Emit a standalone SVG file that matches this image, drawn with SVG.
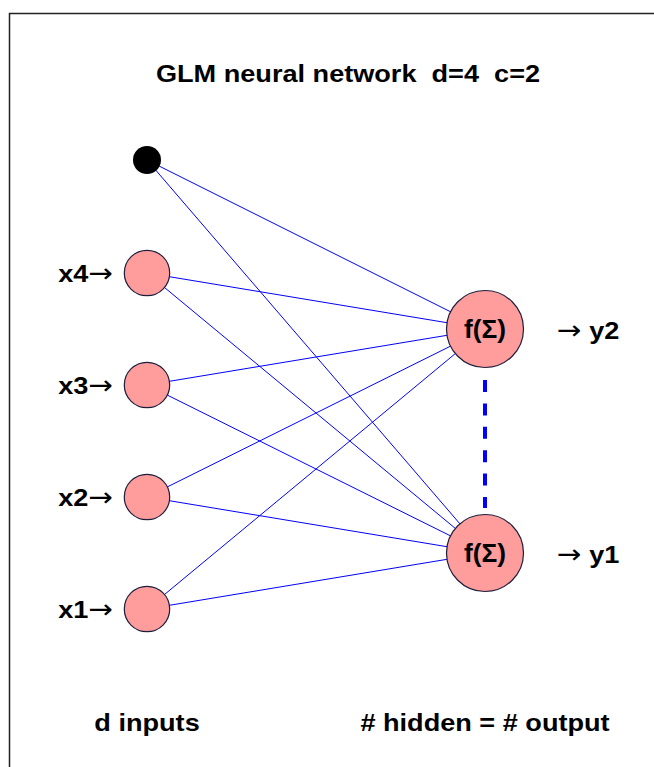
<svg xmlns="http://www.w3.org/2000/svg" width="654" height="767" viewBox="0 0 654 767">
<style>
.lbl{font-family:"Liberation Sans",Arial,sans-serif;font-weight:bold;font-size:24px;fill:#000;white-space:pre}
.arr{font-family:"DejaVu Sans",sans-serif;font-weight:normal;font-size:26px}
.fs{font-size:25px}
.in{fill:#FF9C9C;stroke:#1E1E3C;stroke-width:1.2}
.out{fill:#FF9C9C;stroke:#1E1E3C;stroke-width:1.2}
.edge{stroke:#0000FF;stroke-width:1}
</style>
<rect x="0" y="0" width="654" height="767" fill="#fff"/>
<rect x="9.5" y="13.5" width="700" height="800" fill="none" stroke="#222" stroke-width="1.5"/>
<text class="lbl" transform="translate(348,82) scale(1.13,1)" text-anchor="middle" xml:space="preserve">GLM neural network  d=4  c=2</text>
<g id="connectors">
<line class="edge" x1="147" y1="160" x2="485" y2="329"/>
<line class="edge" x1="147" y1="160" x2="485" y2="553"/>
<line class="edge" x1="147" y1="273" x2="485" y2="329"/>
<line class="edge" x1="147" y1="273" x2="485" y2="553"/>
<line class="edge" x1="147" y1="385" x2="485" y2="329"/>
<line class="edge" x1="147" y1="385" x2="485" y2="553"/>
<line class="edge" x1="147" y1="497" x2="485" y2="329"/>
<line class="edge" x1="147" y1="497" x2="485" y2="553"/>
<line class="edge" x1="147" y1="609" x2="485" y2="329"/>
<line class="edge" x1="147" y1="609" x2="485" y2="553"/>
<line x1="485" y1="380" x2="485" y2="508" stroke="#0000FF" stroke-width="4" stroke-dasharray="12 11.4"/>
</g>
<g id="bias"><circle cx="147" cy="160" r="14" fill="#000"/></g>
<g id="x4"><circle class="in" cx="147" cy="273" r="22.7"/><text class="lbl" transform="translate(113,282) scale(1.13,1)" text-anchor="end">x4<tspan class="arr">→</tspan></text></g>
<g id="x3"><circle class="in" cx="147" cy="385" r="22.7"/><text class="lbl" transform="translate(113,394) scale(1.13,1)" text-anchor="end">x3<tspan class="arr">→</tspan></text></g>
<g id="x2"><circle class="in" cx="147" cy="497" r="22.7"/><text class="lbl" transform="translate(113,506) scale(1.13,1)" text-anchor="end">x2<tspan class="arr">→</tspan></text></g>
<g id="x1"><circle class="in" cx="147" cy="609" r="22.7"/><text class="lbl" transform="translate(113,618) scale(1.13,1)" text-anchor="end">x1<tspan class="arr">→</tspan></text></g>
<g id="y2"><circle class="out" cx="485" cy="329" r="38.5"/><text class="lbl fs" transform="translate(485,338) scale(1.05,1)" text-anchor="middle">f(Σ)</text><text class="lbl" transform="translate(557,339) scale(1.13,1)"><tspan class="arr">→</tspan> y2</text></g>
<g id="y1"><circle class="out" cx="485" cy="553" r="38.5"/><text class="lbl fs" transform="translate(485,562) scale(1.05,1)" text-anchor="middle">f(Σ)</text><text class="lbl" transform="translate(557,563) scale(1.13,1)"><tspan class="arr">→</tspan> y1</text></g>
<text class="lbl" transform="translate(147,731) scale(1.13,1)" text-anchor="middle">d inputs</text>
<text class="lbl" transform="translate(485,731) scale(1.13,1)" text-anchor="middle"># hidden = # output</text>
</svg>
